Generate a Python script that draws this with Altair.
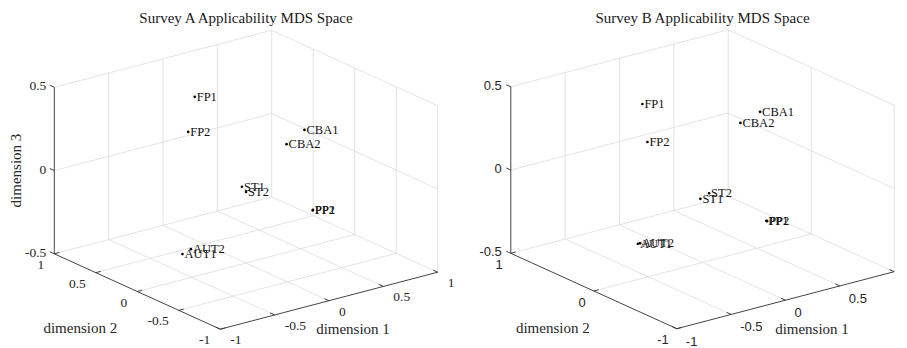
import altair as alt
import pandas as pd

# ---------------- data ----------------
labels = ["FP1", "FP2", "CBA1", "CBA2", "ST1", "ST2", "PP1", "PP2", "AUT1", "AUT2"]

a_dim1 = [-0.09, -0.15, 0.66, 0.48, 0.10, 0.10, 0.54, 0.53, -0.47, -0.40]
a_dim2 = [0.50, 0.50, 0.16, 0.14, 0.18, 0.13, -0.10, -0.11, 0.15, 0.14]
a_dim3 = [0.40, 0.20, 0.15, 0.10, -0.10, -0.12, -0.25, -0.25, -0.40, -0.38]

b_dim1 = [-0.24, -0.27, 0.56, 0.41, -0.05, 0.03, 0.48, 0.48, -0.35, -0.33]
b_dim2 = [0.41, 0.31, 0.04, 0.08, -0.04, -0.04, -0.14, -0.15, 0.32, 0.32]
b_dim3 = [0.40, 0.20, 0.30, 0.25, -0.10, -0.08, -0.30, -0.30, -0.40, -0.40]

dim1_ticks = [-1, -0.5, 0, 0.5, 1]
a_dim2_ticks = [-1, -0.5, 0, 0.5, 1]
b_dim2_ticks = [-1, 0, 1]
dim3_ticks = [-0.5, 0, 0.5]

titles = ["Survey A Applicability MDS Space", "Survey B Applicability MDS Space"]

# ---------------- layout / view ----------------
W, H = 891, 340
AX, BX, AY, BY, CZ = 108.7, -83.0, 28.5, 37.7, 166.5

panels = [
    dict(x0=246.0, y0=263.0, d1=a_dim1, d2=a_dim2, d3=a_dim3, d2t=a_dim2_ticks,
         title=titles[0], tfont="Liberation Serif", tsize=13.5, d1dx=10, d1dy=11, d2dx=-10, d2dy=11,
         d3dx=-8, t1=(24, 28.5), t2=(-57, 36.5), zlabel=True),
    dict(x0=702.5, y0=262.5, d1=b_dim1, d2=b_dim2, d3=b_dim3, d2t=b_dim2_ticks,
         title=titles[1], tfont="Liberation Sans", tsize=13, d1dx=9, d1dy=13, d2dx=-8, d2dy=11.5,
         d3dx=-9, t1=(26.5, 29), t2=(-41, 37), zlabel=False),
]


def proj(p, d1, d2, d3):
    return (p["x0"] + AX * d1 + BX * d2,
            p["y0"] - AY * d1 - BY * d2 - CZ * (d3 + 0.5))


def fmt(v):
    return "0" if v == 0 else ("%g" % v)


grid_rows, axis_rows = [], []
right_lbl, left_lbl = {0: [], 1: []}, {0: [], 1: []}
title_rows, axt_rows, pts_rows = [], [], []


def seg(rows, p, a, b):
    x, y = proj(p, *a)
    x2, y2 = proj(p, *b)
    rows.append(dict(x=x, y=y, x2=x2, y2=y2))


for i, p in enumerate(panels):
    inner2 = [t for t in p["d2t"] if -1 < t < 1]
    # floor grid
    for t in [-0.5, 0, 0.5, 1]:
        seg(grid_rows, p, (t, -1, -0.5), (t, 1, -0.5))
    for t in inner2 + [1]:
        seg(grid_rows, p, (-1, t, -0.5), (1, t, -0.5))
    # back wall dim2 = 1
    for t in [-0.5, 0, 0.5, 1]:
        seg(grid_rows, p, (t, 1, -0.5), (t, 1, 0.5))
    for z in [0, 0.5]:
        seg(grid_rows, p, (-1, 1, z), (1, 1, z))
    # back wall dim1 = 1
    for t in inner2 + [-1]:
        seg(grid_rows, p, (1, t, -0.5), (1, t, 0.5))
    for z in [0, 0.5]:
        seg(grid_rows, p, (1, -1, z), (1, 1, z))
    # axes
    seg(axis_rows, p, (-1, 1, -0.5), (-1, 1, 0.5))
    seg(axis_rows, p, (-1, 1, -0.5), (-1, -1, -0.5))
    seg(axis_rows, p, (-1, -1, -0.5), (1, -1, -0.5))
    # ticks
    for z in dim3_ticks:
        seg(axis_rows, p, (-1, 1, z), (-1, 1.055, z))
        x, y = proj(p, -1, 1, z)
        right_lbl[i].append(dict(x=x + p["d3dx"], y=y - 1, t=fmt(z)))
    for t in p["d2t"]:
        seg(axis_rows, p, (-1, t, -0.5), (-0.955, t, -0.5))
        x, y = proj(p, -1, t, -0.5)
        right_lbl[i].append(dict(x=x + p["d2dx"], y=y + p["d2dy"], t=fmt(t)))
    for t in dim1_ticks:
        seg(axis_rows, p, (t, -1, -0.5), (t, -0.945, -0.5))
        x, y = proj(p, t, -1, -0.5)
        left_lbl[i].append(dict(x=x + p["d1dx"], y=y + p["d1dy"], t=fmt(t)))
    # titles
    title_rows.append(dict(x=p["x0"], y=18, t=p["title"]))
    x, y = proj(p, 0, -1, -0.5)
    axt_rows.append(dict(x=x + p["t1"][0], y=y + p["t1"][1], t="dimension 1", a=0))
    x, y = proj(p, -1, 0, -0.5)
    axt_rows.append(dict(x=x + p["t2"][0], y=y + p["t2"][1], t="dimension 2", a=0))
    if p["zlabel"]:
        x, y = proj(p, -1, 1, 0)
        axt_rows.append(dict(x=x - 38, y=y, t="dimension 3", a=270))
    for lab, u, v, w in zip(labels, p["d1"], p["d2"], p["d3"]):
        x, y = proj(p, u, v, w)
        pts_rows.append(dict(x=x, y=y, t=lab))

xs = alt.Scale(domain=[8, 8 + W], nice=False, zero=False)
ys = alt.Scale(domain=[8, 8 + H], nice=False, zero=False, reverse=True)
X = alt.X("x:Q", scale=xs, axis=None)
Y = alt.Y("y:Q", scale=ys, axis=None)

grid = alt.Chart(pd.DataFrame(grid_rows)).mark_rule(color="#dcdcdc", strokeWidth=0.8).encode(
    x=X, y=Y, x2="x2:Q", y2="y2:Q")
axes = alt.Chart(pd.DataFrame(axis_rows)).mark_rule(color="#303030", strokeWidth=0.9).encode(
    x=X, y=Y, x2="x2:Q", y2="y2:Q")

layers = [grid, axes]
for i, p in enumerate(panels):
    layers.append(alt.Chart(pd.DataFrame(right_lbl[i])).mark_text(
        align="right", baseline="middle", font=p["tfont"], fontSize=p["tsize"], color="#262626"
    ).encode(x=X, y=Y, text="t:N"))
    layers.append(alt.Chart(pd.DataFrame(left_lbl[i])).mark_text(
        align="left", baseline="middle", font=p["tfont"], fontSize=p["tsize"], color="#262626"
    ).encode(x=X, y=Y, text="t:N"))

layers.append(alt.Chart(pd.DataFrame(title_rows)).mark_text(
    align="center", baseline="middle", font="Liberation Serif", fontSize=15, color="#1a1a1a"
).encode(x=X, y=Y, text="t:N"))

axt = pd.DataFrame(axt_rows)
layers.append(alt.Chart(axt[axt.a == 0]).mark_text(
    align="center", baseline="middle", font="Liberation Serif", fontSize=15, color="#262626"
).encode(x=X, y=Y, text="t:N"))
layers.append(alt.Chart(axt[axt.a == 270]).mark_text(
    align="center", baseline="middle", font="Liberation Serif", fontSize=15, color="#262626",
    angle=270
).encode(x=X, y=Y, text="t:N"))

pts = pd.DataFrame(pts_rows)
layers.append(alt.Chart(pts).mark_circle(size=7, color="#000000", opacity=1).encode(x=X, y=Y))
layers.append(alt.Chart(pts).mark_text(
    align="left", baseline="middle", dx=2, font="Liberation Serif", fontSize=12.5, color="#111111"
).encode(x=X, y=Y, text="t:N"))

chart = alt.layer(*layers).properties(
    width=W, height=H, padding=0, autosize=alt.AutoSizeParams(type="none")
).configure_view(stroke=None)

chart.save("out.html", embed_options={"renderer": "svg", "actions": False})
